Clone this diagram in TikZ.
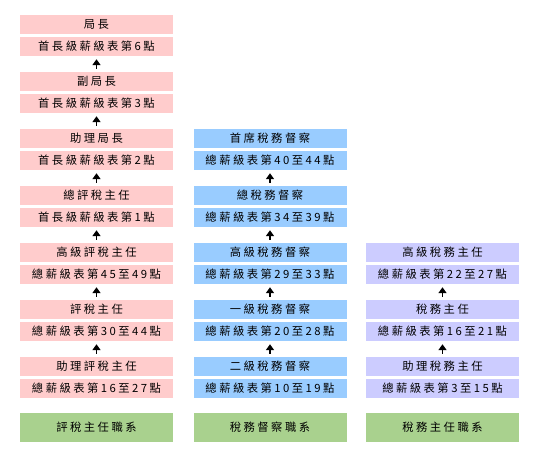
\documentclass[tikz,border=0pt]{standalone}
\usepackage{fontspec}
\setmainfont{Noto Sans CJK TC}[LetterSpace=22]
\usetikzlibrary{arrows.meta}
\definecolor{rankpink}{HTML}{FFCCCC}
\definecolor{rankblue}{HTML}{99CCFF}
\definecolor{ranklilac}{HTML}{CCCCFF}
\definecolor{trackgreen}{HTML}{A9D18E}
\tikzset{
  rank/.style={minimum width=153pt,minimum height=19pt,inner sep=0pt,
    font=\fontsize{11.3}{13}\selectfont},
  track/.style={fill=trackgreen,minimum width=153pt,minimum height=29pt,inner sep=0pt,
    font=\fontsize{11.3}{13}\selectfont},
  promote/.style={line width=1.7pt,-{Triangle[width=8pt,length=6pt]},
    shorten <=3pt,shorten >=3pt}
}

\begin{document}
\begin{tikzpicture}[x=1pt,y=-1pt]
  \useasboundingbox (0,0) rectangle (540,458);
  % assessor grade
  \foreach \k/\post/\pay in {0/局長/首長級薪級表第6點,1/副局長/首長級薪級表第3點,
      2/助理局長/首長級薪級表第2點,3/總評稅主任/首長級薪級表第1點,
      4/高級評稅主任/總薪級表第45至49點,5/評稅主任/總薪級表第30至44點,
      6/助理評稅主任/總薪級表第16至27點}
    {\node[rank,fill=rankpink] (pa\k) at (96.5,24.5+57*\k) {\post};
     \node[rank,fill=rankpink] (sa\k) at (96.5,46.5+57*\k) {\pay};}
  % inspector grade
  \foreach \k/\post/\pay in {2/首席稅務督察/總薪級表第40至44點,3/總稅務督察/總薪級表第34至39點,
      4/高級稅務督察/總薪級表第29至33點,5/一級稅務督察/總薪級表第20至28點,
      6/二級稅務督察/總薪級表第10至19點}
    {\node[rank,fill=rankblue] (pb\k) at (270,24.5+57*\k) {\post};
     \node[rank,fill=rankblue] (sb\k) at (270,46.5+57*\k) {\pay};}
  % officer grade
  \foreach \k/\post/\pay in {4/高級稅務主任/總薪級表第22至27點,5/稅務主任/總薪級表第16至21點,
      6/助理稅務主任/總薪級表第3至15點}
    {\node[rank,fill=ranklilac] (pc\k) at (442.5,24.5+57*\k) {\post};
     \node[rank,fill=ranklilac] (sc\k) at (442.5,46.5+57*\k) {\pay};}
  % promotion arrows
  \foreach \k in {0,...,5}
    {\pgfmathtruncatemacro\j{\k+1}
     \draw[promote] (pa\j) -- (sa\k);}
  \foreach \k in {2,...,5}
    {\pgfmathtruncatemacro\j{\k+1}
     \draw[promote] (pb\j) -- (sb\k);}
  \foreach \k in {4,5}
    {\pgfmathtruncatemacro\j{\k+1}
     \draw[promote] (pc\j) -- (sc\k);}
  % grade labels
  \node[track] (ta) at (96.5,427.5) {評稅主任職系};
  \node[track] (tb) at (270,427.5) {稅務督察職系};
  \node[track] (tc) at (442.5,427.5) {稅務主任職系};
\end{tikzpicture}
\end{document}
